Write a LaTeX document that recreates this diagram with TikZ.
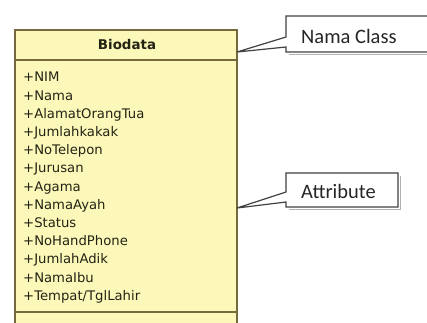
\documentclass[tikz,border=0pt]{standalone}
\usepackage{fontspec}
\setmainfont{DejaVu Sans}
\newfontfamily\callfont{Carlito}
\definecolor{umlfill}{RGB}{252,248,186}
\definecolor{umlline}{RGB}{118,106,60}
\definecolor{calline}{RGB}{65,65,65}
\definecolor{attrtext}{RGB}{35,35,20}
\begin{document}
\begin{tikzpicture}[x=1pt,y=-1pt,
  attr/.style={anchor=base west, inner sep=0pt, text=attrtext, font=\fontsize{13.2}{15}\selectfont},
  titletext/.style={inner sep=0pt, text=attrtext, font=\fontsize{13.4}{15}\selectfont\bfseries},
  calltext/.style={anchor=base west, inner sep=0pt, text=black!85, font=\callfont\fontsize{20.5}{23}\selectfont},
  calloutline/.style={draw=calline, fill=white, line width=1.2pt, line join=miter},
  callshadow/.style={draw=black!30, line width=1.6pt}]
\useasboundingbox (0,0) rectangle (427,322);
\clip (0,0) rectangle (427,322);
\fill[white] (0,0) rectangle (427,322);
% class box
\coordinate (clsTL) at (15,30);
\coordinate (clsBR) at (237,340);
\draw[umlline, fill=umlfill, line width=1.3pt] (clsTL) rectangle (clsBR);
\draw[umlline, line width=2pt] (15,60) -- (237,60);
\draw[umlline, line width=2pt] (15,312) -- (237,312);
\node[titletext] (title) at (127,45) {Biodata};
\foreach \t [count=\i from 0] in {+NIM,+Nama,+AlamatOrangTua,+Jumlahkakak,+NoTelepon,+Jurusan,+Agama,+NamaAyah,+Status,+NoHandPhone,+JumlahAdik,+NamaIbu,+Tempat/TglLahir}
  \node[attr] (a\i) at (23,{81.8+18.2*\i}) {\t};
% pointer tips
\coordinate (p1) at (237,52);
\coordinate (p2) at (237,208);
% callout Nama Class
\draw[callshadow] (288.5,54.5) -- (442,54.5);
\draw[calloutline] (286,47) -- (p1) -- (286,37) -- (286,16) -- (440,16) -- (440,52) -- (286,52) -- cycle;
\node[calltext] (nc) at (301,43.5) {Nama Class};
% callout Attribute
\draw[callshadow] (288.5,209.5) -- (400.5,209.5) -- (400.5,175.5);
\draw[calloutline] (286,202) -- (p2) -- (286,192) -- (286,173) -- (398,173) -- (398,207) -- (286,207) -- cycle;
\node[calltext] (at) at (301,198.5) {Attribute};
\end{tikzpicture}
\end{document}
